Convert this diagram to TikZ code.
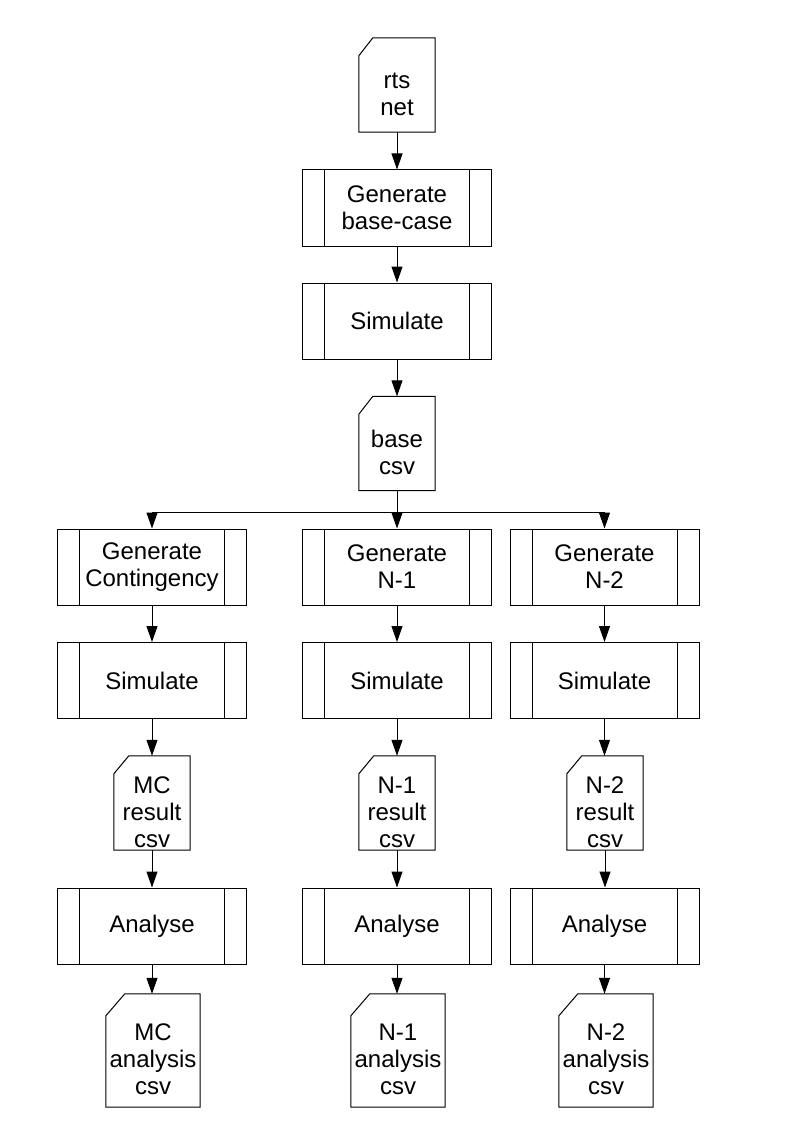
\documentclass[tikz,border=0pt]{standalone}
\usepackage{fontspec}
\setmainfont{Liberation Sans}
\usetikzlibrary{arrows.meta,calc}
\tikzset{
 txt/.style={font=\fontsize{24}{27}\selectfont},
 proc/.style={draw, line width=1pt, minimum width=189pt, minimum height=76pt, inner sep=0pt, align=center, txt,
   path picture={\draw[line width=1pt]
     ([xshift=22pt]path picture bounding box.north west) -- ([xshift=22pt]path picture bounding box.south west)
     ([xshift=-22pt]path picture bounding box.north east) -- ([xshift=-22pt]path picture bounding box.south east);}},
 card/.style={minimum width=76pt, minimum height=94pt, inner sep=0pt},
 bigcard/.style={minimum width=94pt, minimum height=113pt, inner sep=0pt},
 ctext/.style={yshift=-9pt, align=center, txt, inner sep=0pt},
 arr/.style={line width=1pt, -{Triangle[length=16pt,width=11pt]}},
 ln/.style={line width=1pt},
}
\newcommand\cardline[3]{\draw[ln] ($(#1.north west)+(#2,0)$) -- (#1.north east) -- (#1.south east) -- (#1.south west) -- ($(#1.north west)+(0,-#3)$) -- cycle;}
\begin{document}
\begin{tikzpicture}[x=1pt,y=1pt]
\useasboundingbox (0,0) rectangle (794,-1123);
% main column
\node[card, label={[ctext]center:rts\\net}] (rts) at (397,-85) {};
\cardline{rts}{14}{18}
\node[proc] (gb) at (397,-208) {Generate\\base-case};
\node[proc] (sb) at (397,-321) {Simulate};
\node[card, label={[ctext]center:base\\csv}] (bcsv) at (397,-443.5) {};
\cardline{bcsv}{14}{18}
\coordinate (split) at (397,-512);
% generate row
\node[proc] (gL) at (152,-567) {Generate\\Contingency};
\node[proc] (gM) at (397,-567) {Generate\\N-1};
\node[proc] (gR) at (604.5,-567) {Generate\\N-2};
% simulate row
\node[proc] (sL) at (152,-680.5) {Simulate};
\node[proc] (sM) at (397,-680.5) {Simulate};
\node[proc] (sR) at (604.5,-680.5) {Simulate};
% result cards
\node[card, label={[ctext]center:MC\\result\\csv}] (rL) at (152,-803) {};
\cardline{rL}{15}{18}
\node[card, label={[ctext]center:N-1\\result\\csv}] (rM) at (397,-803) {};
\cardline{rM}{15}{18}
\node[card, label={[ctext]center:N-2\\result\\csv}] (rR) at (605,-803) {};
\cardline{rR}{15}{18}
% analyse row
\node[proc] (aL) at (152,-926) {Analyse};
\node[proc] (aM) at (397,-926) {Analyse};
\node[proc] (aR) at (604.5,-926) {Analyse};
% analysis cards
\node[bigcard, label={[ctext]center:MC\\analysis\\csv}] (cL) at (153,-1050.5) {};
\cardline{cL}{19}{22}
\node[bigcard, label={[ctext]center:N-1\\analysis\\csv}] (cM) at (398,-1050.5) {};
\cardline{cM}{19}{22}
\node[bigcard, label={[ctext]center:N-2\\analysis\\csv}] (cR) at (606,-1050.5) {};
\cardline{cR}{19}{22}
% connectors
\draw[arr] (rts.south) -- (gb.north);
\draw[arr] (gb.south) -- (sb.north);
\draw[arr] (sb.south) -- (bcsv.north);
\draw[ln] (bcsv.south) -- (split);
\draw[arr] (split) -| (gL.north);
\draw[arr] (split) -- (gM.north);
\draw[arr] (split) -| (gR.north);
\draw[arr] (gL.south) -- (sL.north);
\draw[arr] (gM.south) -- (sM.north);
\draw[arr] (gR.south) -- (sR.north);
\draw[arr] (sL.south) -- (rL.north);
\draw[arr] (sM.south) -- (rM.north);
\draw[arr] (sR.south) -- (sR.south |- rR.north);
\draw[arr] (rL.south) -- (aL.north);
\draw[arr] (rM.south) -- (aM.north);
\draw[arr] (rR.south) -- (rR.south |- aR.north);
\draw[arr] (aL.south) -- (aL.south |- cL.north);
\draw[arr] (aM.south) -- (aM.south |- cM.north);
\draw[arr] (aR.south) -- (aR.south |- cR.north);
\end{tikzpicture}
\end{document}
